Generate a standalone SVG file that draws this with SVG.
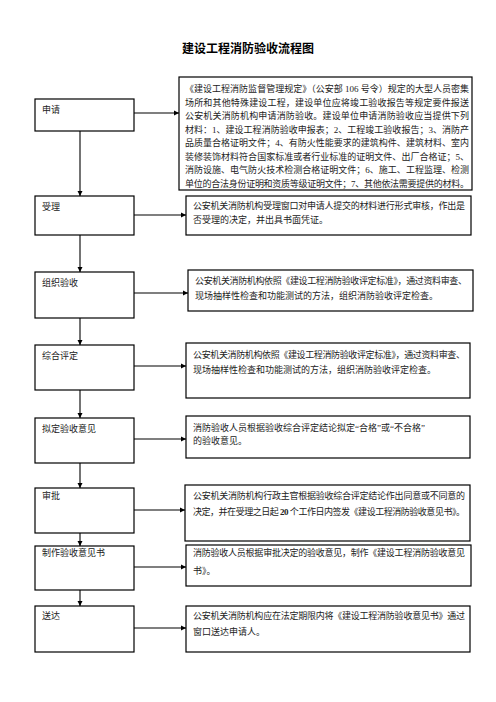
<svg xmlns="http://www.w3.org/2000/svg" width="496" height="702" viewBox="0 0 496 702">
<defs>
<marker id="ah" markerWidth="6" markerHeight="6" refX="5" refY="3" orient="auto" markerUnits="userSpaceOnUse">
<path d="M0,0.5 L5,3 L0,5.5 Z" fill="#000"/>
</marker>
<style>
.box{fill:#fff;stroke:#000;stroke-width:1.2}
.t{font-family:"Liberation Serif","Noto Sans CJK SC",serif;font-size:9px;fill:#222}
.title{font-family:"Liberation Serif","Noto Sans CJK SC",serif;font-size:12px;font-weight:bold;fill:#000}
.c{stroke:#000;stroke-width:1.1;fill:none}
</style>
</defs>
<rect width="496" height="702" fill="#fff"/>
<text class="title" x="248" y="53" text-anchor="middle">建设工程消防验收流程图</text>
<g id="connectors">
<line class="c" x1="80" y1="131" x2="80" y2="196" marker-end="url(#ah)"/>
<line class="c" x1="80" y1="235" x2="80" y2="272" marker-end="url(#ah)"/>
<line class="c" x1="80" y1="318" x2="80" y2="345" marker-end="url(#ah)"/>
<line class="c" x1="80" y1="390" x2="80" y2="418" marker-end="url(#ah)"/>
<line class="c" x1="80" y1="463" x2="80" y2="488" marker-end="url(#ah)"/>
<line class="c" x1="80" y1="533" x2="80" y2="546" marker-end="url(#ah)"/>
<line class="c" x1="80" y1="590" x2="80" y2="606" marker-end="url(#ah)"/>
<line class="c" x1="134" y1="113" x2="179" y2="113" marker-end="url(#ah)"/>
<line class="c" x1="134" y1="215" x2="186" y2="215" marker-end="url(#ah)"/>
<line class="c" x1="134" y1="293" x2="188" y2="293" marker-end="url(#ah)"/>
<line class="c" x1="134" y1="366" x2="186" y2="366" marker-end="url(#ah)"/>
<line class="c" x1="134" y1="439" x2="186" y2="439" marker-end="url(#ah)"/>
<line class="c" x1="134" y1="510" x2="185" y2="510" marker-end="url(#ah)"/>
<line class="c" x1="134" y1="567" x2="186" y2="567" marker-end="url(#ah)"/>
<line class="c" x1="134" y1="628" x2="186" y2="628" marker-end="url(#ah)"/>
</g>
<g id="n1"><rect class="box" x="35" y="99" width="99" height="32"/><text class="t" x="42" y="113">申请</text></g>
<g id="n2"><rect class="box" x="35" y="196" width="99" height="39"/><text class="t" x="42" y="210">受理</text></g>
<g id="n3"><rect class="box" x="35" y="272" width="99" height="46"/><text class="t" x="42" y="286">组织验收</text></g>
<g id="n4"><rect class="box" x="35" y="345" width="99" height="45"/><text class="t" x="42" y="359">综合评定</text></g>
<g id="n5"><rect class="box" x="35" y="418" width="99" height="45"/><text class="t" x="42" y="432">拟定验收意见</text></g>
<g id="n6"><rect class="box" x="35" y="488" width="99" height="45"/><text class="t" x="42" y="499">审批</text></g>
<g id="n7"><rect class="box" x="35" y="546" width="99" height="44"/><text class="t" x="42" y="556">制作验收意见书</text></g>
<g id="n8"><rect class="box" x="35" y="606" width="99" height="46"/><text class="t" x="42" y="619">送达</text></g>
<g id="d1"><rect class="box" x="179" y="77" width="293" height="113"/>
<text class="t" x="185" y="92" textLength="284" lengthAdjust="spacing">《建设工程消防监督管理规定》（公安部 106 号令）规定的大型人员密集</text>
<text class="t" x="185" y="105.5" textLength="284" lengthAdjust="spacing">场所和其他特殊建设工程，建设单位应将竣工验收报告等规定要件报送</text>
<text class="t" x="185" y="119" textLength="284" lengthAdjust="spacing">公安机关消防机构申请消防验收。建设单位申请消防验收应当提供下列</text>
<text class="t" x="185" y="132.5" textLength="284" lengthAdjust="spacing">材料：1、建设工程消防验收申报表；2、工程竣工验收报告；3、消防产</text>
<text class="t" x="185" y="146" textLength="284" lengthAdjust="spacing">品质量合格证明文件；4、有防火性能要求的建筑构件、建筑材料、室内</text>
<text class="t" x="185" y="159.5" textLength="284" lengthAdjust="spacing">装修装饰材料符合国家标准或者行业标准的证明文件、出厂合格证；5、</text>
<text class="t" x="185" y="173" textLength="284" lengthAdjust="spacing">消防设施、电气防火技术检测合格证明文件；6、施工、工程监理、检测</text>
<text class="t" x="185" y="186.5" textLength="284" lengthAdjust="spacing">单位的合法身份证明和资质等级证明文件；7、其他依法需要提供的材料。</text>
</g>
<g id="d2"><rect class="box" x="186" y="196" width="285" height="39"/>
<text class="t" x="193" y="209" textLength="272" lengthAdjust="spacing">公安机关消防机构受理窗口对申请人提交的材料进行形式审核，作出是</text>
<text class="t" x="193" y="223">否受理的决定，并出具书面凭证。</text></g>
<g id="d3"><rect class="box" x="188" y="270" width="285" height="41"/>
<text class="t" x="195" y="284" textLength="272" lengthAdjust="spacing">公安机关消防机构依照《建设工程消防验收评定标准》，通过资料审查、</text>
<text class="t" x="195" y="299">现场抽样性检查和功能测试的方法，组织消防验收评定检查。</text></g>
<g id="d4"><rect class="box" x="186" y="343" width="284" height="55"/>
<text class="t" x="193" y="358" textLength="272" lengthAdjust="spacing">公安机关消防机构依照《建设工程消防验收评定标准》，通过资料审查、</text>
<text class="t" x="193" y="373">现场抽样性检查和功能测试的方法，组织消防验收评定检查。</text></g>
<g id="d5"><rect class="box" x="186" y="416" width="284" height="42"/>
<text class="t" x="193" y="431">消防验收人员根据验收综合评定结论拟定“合格”或“不合格”</text>
<text class="t" x="193" y="444">的验收意见。</text></g>
<g id="d6"><rect class="box" x="185" y="485" width="285" height="56"/>
<text class="t" x="193" y="499" textLength="272" lengthAdjust="spacing">公安机关消防机构行政主官根据验收综合评定结论作出同意或不同意的</text>
<text class="t" x="193" y="515" textLength="272" lengthAdjust="spacing">决定，并在受理之日起 <tspan font-weight="bold">20</tspan> 个工作日内签发《建设工程消防验收意见书》。</text></g>
<g id="d7"><rect class="box" x="186" y="545" width="285" height="41"/>
<text class="t" x="193" y="556" textLength="272" lengthAdjust="spacing">消防验收人员根据审批决定的验收意见，制作《建设工程消防验收意见</text>
<text class="t" x="193" y="574">书》。</text></g>
<g id="d8"><rect class="box" x="186" y="606" width="284" height="46"/>
<text class="t" x="193" y="619" textLength="272" lengthAdjust="spacing">公安机关消防机构应在法定期限内将《建设工程消防验收意见书》通过</text>
<text class="t" x="193" y="635">窗口送达申请人。</text></g>
</svg>
